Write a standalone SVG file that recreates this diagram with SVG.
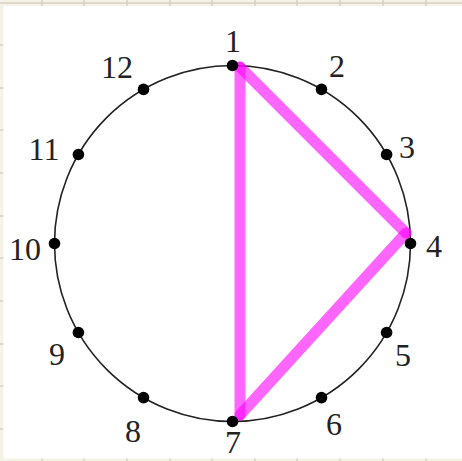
<svg xmlns="http://www.w3.org/2000/svg" width="462" height="461" viewBox="0 0 462 461">
<style>
.lbl{font-family:"Liberation Serif","DejaVu Serif",serif;font-size:32px;fill:#222;text-anchor:middle}
.dot{fill:#000}
.tri{stroke:#ff00ff;stroke-opacity:0.6;stroke-width:11;stroke-linecap:round;fill:none}
.grid{stroke:#d4d2c4;stroke-width:1.5}
</style>
<g id="background">
<rect x="0" y="0" width="462" height="461" fill="#f5f3e5"/>
<line class="grid" x1="0" y1="3" x2="462" y2="3"/>
<g class="grid">
<line x1="42" y1="0" x2="42" y2="461"/><line x1="84" y1="0" x2="84" y2="461"/><line x1="127" y1="0" x2="127" y2="461"/><line x1="170" y1="0" x2="170" y2="461"/><line x1="212" y1="0" x2="212" y2="461"/><line x1="255" y1="0" x2="255" y2="461"/><line x1="297" y1="0" x2="297" y2="461"/><line x1="340" y1="0" x2="340" y2="461"/><line x1="383" y1="0" x2="383" y2="461"/><line x1="426" y1="0" x2="426" y2="461"/>
<line x1="0" y1="45" x2="462" y2="45"/><line x1="0" y1="88" x2="462" y2="88"/><line x1="0" y1="130" x2="462" y2="130"/><line x1="0" y1="173" x2="462" y2="173"/><line x1="0" y1="216" x2="462" y2="216"/><line x1="0" y1="258" x2="462" y2="258"/><line x1="0" y1="301" x2="462" y2="301"/><line x1="0" y1="344" x2="462" y2="344"/><line x1="0" y1="386" x2="462" y2="386"/><line x1="0" y1="429" x2="462" y2="429"/>
</g>
<rect x="3.5" y="6" width="460" height="452.5" fill="#ffffff"/>
</g>
<g id="circle">
<circle cx="232.5" cy="243.5" r="178" fill="none" stroke="#222" stroke-width="1.6"/>
</g>
<g id="connectors">
<line class="tri" x1="240" y1="67" x2="240" y2="415"/>
<line class="tri" x1="240" y1="67" x2="406" y2="233"/>
<line class="tri" x1="406" y1="233" x2="240" y2="415"/>
</g>
<g id="node1"><circle class="dot" cx="232.5" cy="65.5" r="5.8"/><text class="lbl" x="233" y="52">1</text></g>
<g id="node2"><circle class="dot" cx="321.5" cy="89.4" r="5.8"/><text class="lbl" x="337" y="77">2</text></g>
<g id="node3"><circle class="dot" cx="386.6" cy="154.5" r="5.8"/><text class="lbl" x="407" y="158">3</text></g>
<g id="node4"><circle class="dot" cx="410.5" cy="243.5" r="5.8"/><text class="lbl" x="434" y="257">4</text></g>
<g id="node5"><circle class="dot" cx="386.6" cy="332.5" r="5.8"/><text class="lbl" x="403" y="366">5</text></g>
<g id="node6"><circle class="dot" cx="321.5" cy="397.6" r="5.8"/><text class="lbl" x="334" y="435">6</text></g>
<g id="node7"><circle class="dot" cx="232.5" cy="421.5" r="5.8"/><text class="lbl" x="233" y="453">7</text></g>
<g id="node8"><circle class="dot" cx="143.5" cy="397.6" r="5.8"/><text class="lbl" x="133" y="442">8</text></g>
<g id="node9"><circle class="dot" cx="78.4" cy="332.5" r="5.8"/><text class="lbl" x="57" y="365">9</text></g>
<g id="node10"><circle class="dot" cx="54.5" cy="243.5" r="5.8"/><text class="lbl" x="25" y="260">10</text></g>
<g id="node11"><circle class="dot" cx="78.4" cy="154.5" r="5.8"/><text class="lbl" x="44" y="160">11</text></g>
<g id="node12"><circle class="dot" cx="143.5" cy="89.4" r="5.8"/><text class="lbl" x="117" y="78">12</text></g>
</svg>
